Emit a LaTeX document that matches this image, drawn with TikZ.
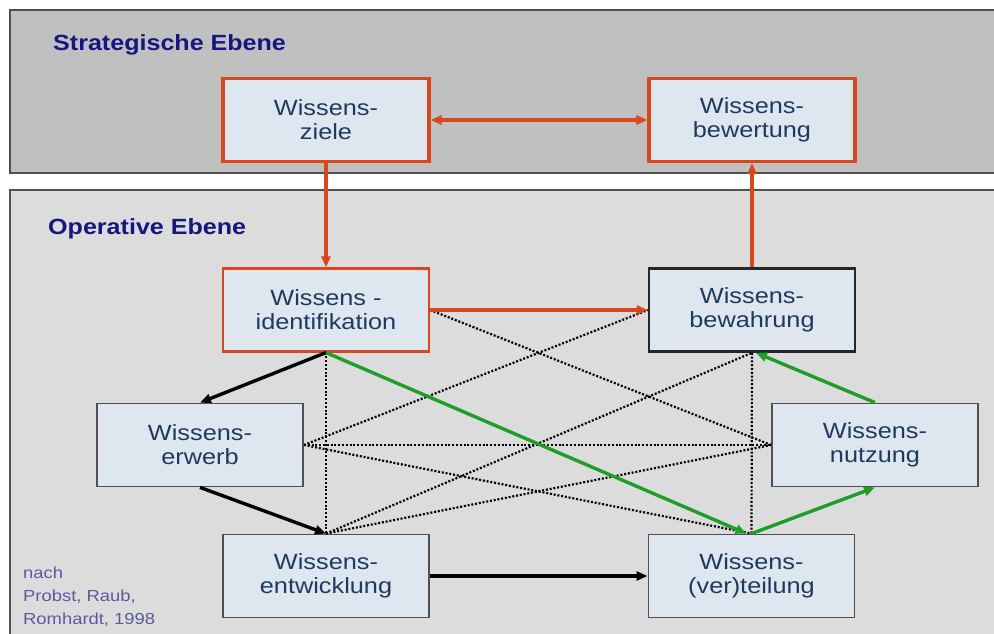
\documentclass[tikz,border=0pt]{standalone}
\usepackage{fontspec}
\setmainfont{Liberation Sans}
\newfontfamily\boxfont[FakeStretch=1.15]{Liberation Sans}
\newfontfamily\titlefont[FakeStretch=1.14]{Liberation Sans Bold}
\usetikzlibrary{arrows.meta}
\definecolor{orangeC}{HTML}{D9481C}
\definecolor{greenC}{HTML}{1E9E28}
\definecolor{boxfill}{HTML}{DEE6F0}
\definecolor{textC}{HTML}{1F3A5C}
\definecolor{navyC}{HTML}{161680}
\definecolor{footC}{HTML}{5B5B9E}
\definecolor{panelTop}{HTML}{C0C0C0}
\definecolor{panelBot}{HTML}{DCDCDC}
\definecolor{panelLine}{HTML}{505050}
\tikzset{
  wbox/.style={draw=panelLine, line width=1.8pt, fill=boxfill, minimum width=206pt,
    minimum height=83pt, inner sep=0pt, align=center, text=textC,
    font=\boxfont\fontsize{22pt}{24pt}\selectfont},
  stratbox/.style={wbox, draw=orangeC, line width=3.2pt},
  identbox/.style={wbox, draw=orangeC, line width=2.2pt},
  bewbox/.style={wbox, draw=black!85, line width=2.5pt},
  panel/.style={draw=panelLine, line width=1.6pt},
  level/.style={anchor=base west, text=navyC, inner sep=0pt,
    font=\titlefont\fontsize{22pt}{26pt}\selectfont},
  foot/.style={anchor=base west, text=footC, inner sep=0pt,
    font=\boxfont\fontsize{16pt}{20pt}\selectfont},
  tip/.style={-{Triangle[length=11pt,width=9pt]}},
  oarrow/.style={tip, draw=orangeC, line width=3.4pt},
  barrow/.style={tip, draw=black, line width=3.4pt},
  garrow/.style={tip, draw=greenC, line width=3.4pt},
  dotline/.style={draw=black, line width=2.2pt, dash pattern=on 2pt off 1.8pt}
}
\begin{document}
\begin{tikzpicture}[x=1pt,y=-1pt]
\useasboundingbox (0,0) rectangle (994,634);
\clip (0,0) rectangle (994,634);
\fill[white] (0,0) rectangle (994,634);
\draw[panel, fill=panelTop] (10,10) rectangle (1005,173);
\draw[panel, fill=panelBot] (10,190) rectangle (1005,645);

\node[level] (strat) at (53,51) {Strategische Ebene};
\node[level] (oper) at (48,234) {Operative Ebene};

\node[foot] (f1) at (23,578) {nach};
\node[foot] (f2) at (23,601) {Probst, Raub,};
\node[foot] (f3) at (23,624) {Romhardt, 1998};

\node[stratbox] (ziele) at (326,120) {Wissens-\\ziele};
\node[stratbox] (bewert) at (752,120) {Wissens-\\bewertung};
\node[identbox] (ident) at (326,310) {Wissens -\\identifikation};
\node[bewbox] (bewahr) at (752,310) {Wissens-\\bewahrung};
\node[wbox] (erwerb) at (200,445) {Wissens-\\erwerb};
\node[wbox] (nutz) at (875,445) {Wissens-\\nutzung};
\node[wbox] (entw) at (326,576) {Wissens-\\entwicklung};
\node[wbox] (verteil) at (751.5,576) {Wissens-\\(ver)teilung};

% dotted connections
\draw[dotline] (ident.south) -- (entw.north);
\draw[dotline] (ident.east) -- (nutz.west);
\draw[dotline] (erwerb.east) -- (bewahr.west);
\draw[dotline] (erwerb.east) -- (nutz.west);
\draw[dotline] (erwerb.east) -- (verteil.north);
\draw[dotline] (entw.north) -- (bewahr.south);
\draw[dotline] (entw.north) -- (nutz.west);
\draw[dotline] (bewahr.south) -- (verteil.north);

% orange
\draw[oarrow, {Triangle[length=11pt,width=9pt]}-{Triangle[length=11pt,width=9pt]}] (ziele.east) -- (bewert.west);
\draw[oarrow] (ziele.south) -- (ident.north);
\draw[oarrow] (bewahr.north) -- (bewert.south);
\draw[oarrow] (ident.east) -- (bewahr.west);

% black
\draw[barrow] (ident.south) -- (erwerb.north);
\draw[barrow] (erwerb.south) -- (entw.north);
\draw[barrow] (entw.east) -- (verteil.west);

% green
\draw[garrow] (ident.south) -- ([xshift=-5pt]verteil.north);
\draw[garrow] (verteil.north) -- (nutz.south);
\draw[garrow] (nutz.north) -- ([xshift=4pt]bewahr.south);
\end{tikzpicture}
\end{document}
